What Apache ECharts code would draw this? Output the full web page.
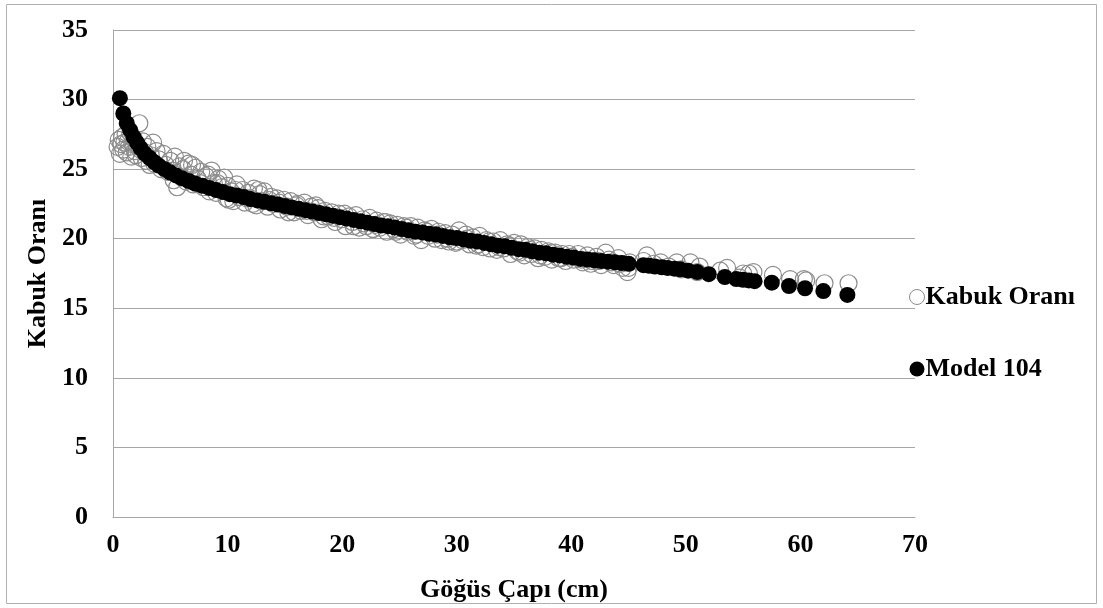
<!DOCTYPE html>
<html>
<head>
<meta charset="utf-8">
<script src="https://cdn.jsdelivr.net/npm/echarts@6/dist/echarts.min.js"></script>
<style>
  html, body { margin: 0; padding: 0; background: #ffffff; }
  #chart { width: 1103px; height: 608px; }
</style>
</head>
<body>
<div id="chart"></div>
<script>
// Axis ticks
const xTicks = [0, 10, 20, 30, 40, 50, 60, 70];
const yTicks = [0, 5, 10, 15, 20, 25, 30, 35];

// Series names
const seriesNames = ['Kabuk Oranı', 'Model 104'];

// Measured bark ratio (%) against breast-height diameter (cm)
const observedDiameter = [
  0.4, 0.5, 0.6, 0.7, 0.8, 0.9, 1.0, 1.1, 1.2, 1.3, 1.4, 1.5, 1.6, 1.7, 1.8, 1.9, 2.0, 2.1,
  2.3, 2.4, 2.5, 2.6, 2.8, 2.9, 3.0, 3.2, 3.3, 3.5, 3.6, 3.8, 4.0, 4.2, 4.4, 4.6, 4.8, 5.0, 5.2, 5.4,
  5.6, 5.8, 6.0, 6.2, 6.4, 6.6, 6.8, 7.0, 7.2, 7.4, 7.7, 7.9, 8.1, 8.4, 8.6, 8.8, 9.0, 9.2, 9.5, 9.7, 9.9, 10.0,
  10.3, 10.5, 10.8, 11.0, 11.3, 11.5, 11.8, 12.0, 12.3, 12.5, 12.8, 13.0, 13.2, 13.5, 13.8, 14.0, 14.3, 14.6,
  14.9, 15.2, 15.5, 15.8, 16.1, 16.4, 16.7, 17.0, 17.3, 17.6, 17.9, 18.2, 18.5, 18.8, 19.1, 19.4, 19.7, 20.0,
  20.3, 20.6, 20.9, 21.2, 21.5, 21.8, 22.1, 22.4, 22.7, 23.0, 23.3, 23.6, 23.9, 24.2, 24.5, 24.8, 25.1, 25.4,
  25.7, 26.0, 26.3, 26.6, 26.9, 27.2, 27.5, 27.8, 28.1, 28.4, 28.7, 29.0, 29.3, 29.6, 29.9,
  30.2, 30.5, 30.8, 31.1, 31.4, 31.7, 32.0, 32.3, 32.6, 32.9, 33.2, 33.5, 33.8, 34.1, 34.4, 34.7, 35.0, 35.3,
  35.6, 35.9, 36.2, 36.5, 36.8, 37.1, 37.4, 37.7, 38.0, 38.3, 38.6, 38.9, 39.2, 39.5, 39.8,
  40.2, 40.6, 41.0, 41.4, 41.8, 42.2, 42.6, 43.0, 43.3, 43.7, 44.1, 44.5, 44.9, 45.1,
  46.3, 46.6, 47.2, 47.8, 48.5, 49.2, 49.6, 50.4, 51.0, 51.2, 53.0, 53.6, 54.7, 55.0, 55.5, 55.9,
  57.6, 59.1, 60.3, 60.5, 62.1, 64.2,
  5.3, 6.1, 6.9, 7.6, 8.3, 9.1, 10.1, 10.7, 11.7, 12.2, 12.7, 13.6, 14.5, 15.3, 16.0, 16.9, 17.7, 18.4,
  19.3, 20.2, 21.0, 21.9, 22.9, 23.8, 24.7, 25.6, 26.5, 27.4, 28.3, 29.2, 30.0, 30.9, 31.9, 32.8, 33.7,
  34.6, 35.5, 36.4, 37.3, 38.2, 39.1, 40.0, 40.9, 41.7, 42.4, 43.5, 44.3, 45.0
];
const observedRatio = [
  26.6, 27.1, 26.1, 26.8, 27.3, 26.4, 26.9, 27.5, 26.2, 27.0, 26.6, 27.6, 25.9, 26.8, 27.2, 26.3, 26.0, 26.7,
  28.3, 26.4, 25.8, 27.0, 26.2, 25.6, 26.6, 25.3, 26.0, 26.9, 25.4, 26.3, 25.7, 25.0, 26.1, 25.3, 24.8, 25.6, 24.9, 25.9,
  23.7, 25.2, 24.4, 25.6, 24.1, 25.4, 24.6, 23.9, 25.1, 24.3, 24.8, 23.7, 24.5, 23.4, 24.9, 24.0, 23.3, 24.3, 23.7, 24.4, 22.9, 23.8,
  23.4, 22.7, 23.9, 23.0, 23.5, 22.6, 23.3, 22.9, 23.6, 22.4, 23.2, 22.7, 23.4, 22.3, 23.0, 22.5, 22.9, 22.1,
  22.8, 22.3, 22.7, 21.9, 22.5, 22.0, 22.6, 21.7, 22.3, 21.9, 22.2, 21.4, 22.0, 21.6, 21.9, 21.2, 21.8, 21.4,
  20.9, 21.6, 21.2, 21.7, 20.8, 21.4, 20.9, 21.5, 20.7, 21.3, 20.8, 21.2, 20.5, 21.1, 20.7, 21.0, 20.3, 20.9,
  20.5, 20.9, 20.2, 20.8, 19.9, 20.6, 20.2, 20.7, 20.0, 20.5, 19.9, 20.4, 19.8, 20.3, 19.7,
  20.6, 19.9, 20.3, 19.6, 20.1, 19.5, 20.2, 19.4, 19.9, 19.3, 19.8, 19.2, 19.9, 19.3, 19.6, 18.9, 19.7, 19.1,
  19.6, 18.8, 19.4, 18.9, 19.3, 18.6, 19.2, 18.7, 19.1, 18.5, 19.0, 18.6, 18.9, 18.4, 18.9,
  18.5, 18.9, 18.3, 18.8, 18.4, 18.7, 18.1, 19.0, 18.5, 18.1, 18.6, 17.9, 17.6, 18.3,
  18.4, 18.8, 18.2, 18.3, 18.0, 18.3, 17.8, 18.3, 17.6, 18.0, 17.7, 17.9, 17.2, 17.5, 17.5, 17.6,
  17.4, 17.1, 17.1, 17.0, 16.8, 16.8,
  24.2, 25.0, 25.3, 24.0, 24.6, 24.0, 22.8, 23.5, 22.9, 22.5, 23.5, 22.8, 22.6, 21.9, 22.4, 22.0, 22.4, 21.6,
  21.5, 21.8, 20.9, 21.1, 21.0, 21.2, 20.5, 20.8, 20.3, 20.5, 20.3, 20.0, 19.8, 20.0, 19.6, 19.8, 19.4,
  19.5, 19.0, 19.2, 18.8, 19.0, 18.6, 18.7, 18.5, 18.2, 18.4, 18.3, 18.2, 17.9
];

// Fitted values of model 104 at the measured diameters
const modelDiameter = [
  0.6, 0.9, 1.2, 1.5, 1.8, 2.1, 2.4, 2.8, 3.2, 3.6, 4.0, 4.5, 5.0, 5.5, 6.0, 6.6, 7.2, 7.8, 8.4, 9.0, 9.6,
  10.2, 10.8, 11.4, 12.0, 12.6, 13.2, 13.8, 14.4, 15.0, 15.6, 16.2, 16.8, 17.4, 18.0, 18.6, 19.2, 19.8,
  20.4, 21.0, 21.6, 22.2, 22.8, 23.4, 24.0, 24.6, 25.2, 25.8, 26.4, 27.0, 27.6, 28.2, 28.8, 29.4,
  30.0, 30.6, 31.2, 31.8, 32.4, 33.0, 33.6, 34.2, 34.8, 35.4, 36.0, 36.6, 37.2, 37.8, 38.4, 39.0, 39.6,
  40.2, 40.8, 41.4, 42.0, 42.6, 43.2, 43.8, 44.4, 45.0,
  46.3, 46.8, 47.3, 47.9, 48.4, 49.0, 49.5, 50.2, 51.0, 52.0, 53.4, 54.4, 55.0, 55.5, 56.0, 57.5, 59.0, 60.4, 62.0, 64.1
];
const modelRatio = [
  30.1, 29.0, 28.3, 27.8, 27.3, 26.9, 26.5, 26.1, 25.8, 25.5, 25.25, 25.0, 24.75, 24.55, 24.35, 24.15, 23.95, 23.8, 23.65, 23.5, 23.35,
  23.2, 23.1, 23.0, 22.85, 22.75, 22.65, 22.55, 22.45, 22.35, 22.25, 22.15, 22.05, 21.95, 21.85, 21.75, 21.65, 21.55,
  21.45, 21.35, 21.25, 21.15, 21.05, 20.95, 20.9, 20.8, 20.7, 20.6, 20.5, 20.45, 20.35, 20.3, 20.2, 20.1,
  20.05, 19.95, 19.85, 19.8, 19.7, 19.6, 19.5, 19.45, 19.35, 19.25, 19.2, 19.1, 19.0, 18.95, 18.85, 18.8, 18.7,
  18.65, 18.55, 18.5, 18.45, 18.4, 18.35, 18.3, 18.25, 18.2,
  18.1, 18.05, 18.0, 17.95, 17.9, 17.85, 17.8, 17.7, 17.6, 17.45, 17.25, 17.1, 17.05, 17.0, 16.95, 16.84, 16.6, 16.44, 16.24, 15.96
];

const observedPoints = observedDiameter.map((d, i) => [d, observedRatio[i]]);
const modelPoints = modelDiameter.map((d, i) => [d, modelRatio[i]]);

const textFont = {
  fontFamily: 'Liberation Serif',
  fontWeight: 'bold',
  fontSize: 26,
  color: '#000000'
};
const gridGray = '#a6a6a6';

const chart = echarts.init(document.getElementById('chart'), null, { renderer: 'canvas' });

chart.setOption({
  animation: false,
  backgroundColor: '#ffffff',
  graphic: [{
    type: 'rect',
    shape: { x: 6.5, y: 4.5, width: 1090, height: 599 },
    style: { fill: 'none', stroke: '#b0b0b0', lineWidth: 1 },
    silent: true,
    z: -1
  }],
  grid: { left: 113, right: 188, top: 30, bottom: 91 },
  xAxis: {
    type: 'value',
    min: xTicks[0],
    max: xTicks[xTicks.length - 1],
    interval: xTicks[1] - xTicks[0],
    name: 'Göğüs Çapı (cm)',
    nameLocation: 'middle',
    nameGap: 60,
    nameTextStyle: textFont,
    axisLine: { show: true, lineStyle: { color: gridGray, width: 1 } },
    axisTick: { show: false },
    splitLine: { show: false },
    axisLabel: Object.assign({ margin: 15 }, textFont)
  },
  yAxis: {
    type: 'value',
    min: yTicks[0],
    max: yTicks[yTicks.length - 1],
    interval: yTicks[1] - yTicks[0],
    name: 'Kabuk Oranı',
    nameLocation: 'middle',
    nameGap: 58,
    nameTextStyle: textFont,
    axisLine: { show: true, lineStyle: { color: gridGray, width: 1 } },
    axisTick: { show: false },
    splitLine: { show: true, lineStyle: { color: gridGray, width: 1 } },
    axisLabel: Object.assign({ margin: 25 }, textFont)
  },
  legend: {
    orient: 'vertical',
    left: 904,
    top: 279,
    itemGap: 46,
    itemWidth: 15,
    itemHeight: 15,
    textStyle: Object.assign({ padding: [0, 0, 0, -4] }, textFont),
    data: [
      { name: seriesNames[0], icon: 'circle', itemStyle: { color: '#ffffff', borderColor: '#8c8c8c', borderWidth: 1, opacity: 1 } },
      { name: seriesNames[1], icon: 'circle', itemStyle: { color: '#000000', borderColor: '#000000', borderWidth: 0, opacity: 1 } }
    ]
  },
  series: [
    {
      name: seriesNames[0],
      type: 'scatter',
      symbol: 'circle',
      symbolSize: 17,
      itemStyle: { color: 'rgba(255,255,255,0)', borderColor: '#8c8c8c', borderWidth: 1.2, opacity: 1 },
      data: observedPoints,
      z: 2
    },
    {
      name: seriesNames[1],
      type: 'scatter',
      symbol: 'circle',
      symbolSize: 16,
      itemStyle: { color: '#000000', borderWidth: 0, opacity: 1 },
      data: modelPoints,
      z: 3
    }
  ]
});
</script>
</body>
</html>
